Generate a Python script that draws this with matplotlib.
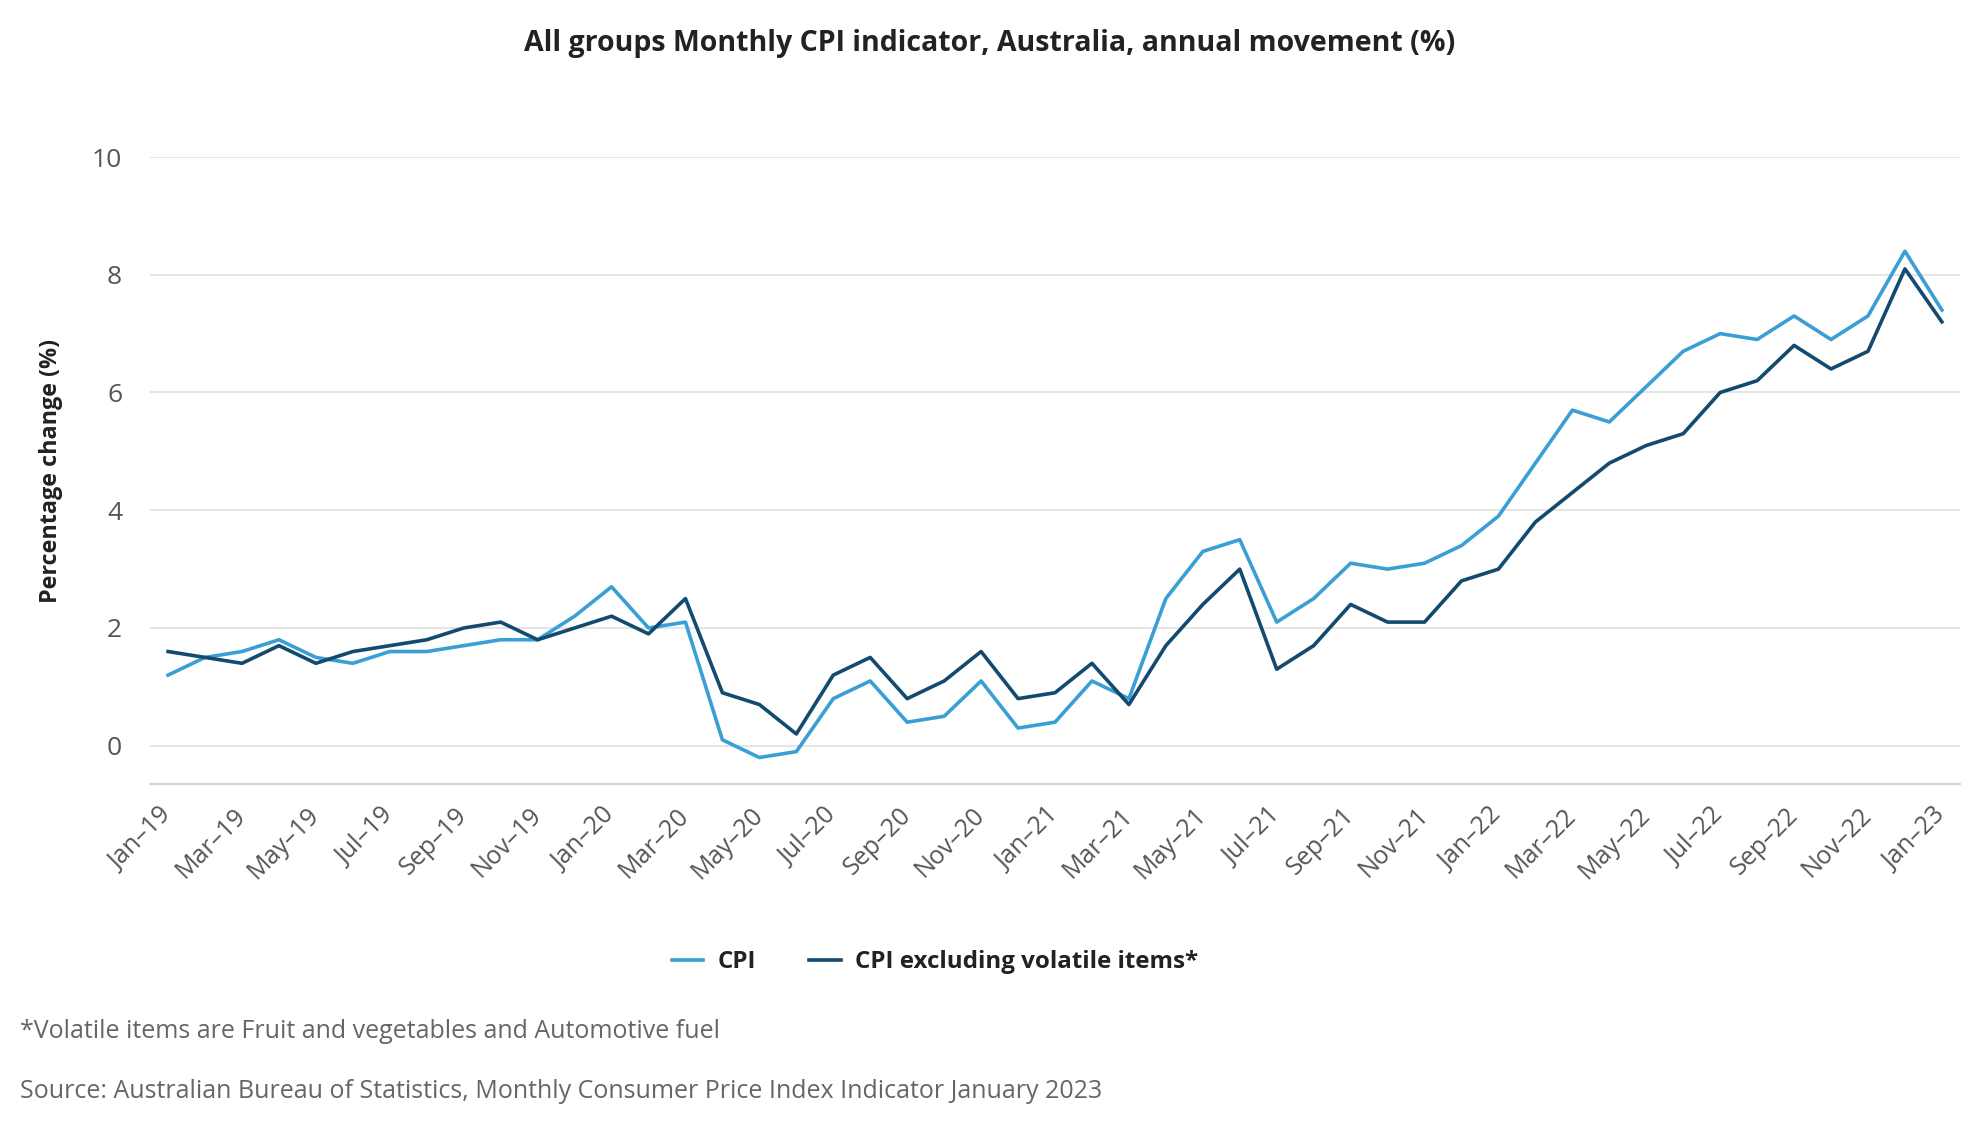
import matplotlib
matplotlib.use("Agg")
import matplotlib.pyplot as plt

plt.rcParams['font.family'] = ['Open Sans', 'DejaVu Sans']

# monthly labels Jan-19 .. Jan-23
months = ['Jan', 'Feb', 'Mar', 'Apr', 'May', 'Jun', 'Jul', 'Aug', 'Sep', 'Oct', 'Nov', 'Dec']
periods = [f"{m}\u201319" for m in months] + [f"{m}\u201320" for m in months] + \
          [f"{m}\u201321" for m in months] + [f"{m}\u201322" for m in months] + ["Jan\u201323"]

cpi = [1.2, 1.5, 1.6, 1.8, 1.5, 1.4, 1.6, 1.6, 1.7, 1.8, 1.8, 2.2,
       2.7, 2.0, 2.1, 0.1, -0.2, -0.1, 0.8, 1.1, 0.4, 0.5, 1.1, 0.3,
       0.4, 1.1, 0.8, 2.5, 3.3, 3.5, 2.1, 2.5, 3.1, 3.0, 3.1, 3.4,
       3.9, 4.8, 5.7, 5.5, 6.1, 6.7, 7.0, 6.9, 7.3, 6.9, 7.3, 8.4,
       7.4]
cpi_ex_volatile = [1.6, 1.5, 1.4, 1.7, 1.4, 1.6, 1.7, 1.8, 2.0, 2.1, 1.8, 2.0,
                   2.2, 1.9, 2.5, 0.9, 0.7, 0.2, 1.2, 1.5, 0.8, 1.1, 1.6, 0.8,
                   0.9, 1.4, 0.7, 1.7, 2.4, 3.0, 1.3, 1.7, 2.4, 2.1, 2.1, 2.8,
                   3.0, 3.8, 4.3, 4.8, 5.1, 5.3, 6.0, 6.2, 6.8, 6.4, 6.7, 8.1,
                   7.2]

y_ticks = [0, 2, 4, 6, 8, 10]

fig = plt.figure(figsize=(19.8, 11.4), dpi=100)
ax = fig.add_axes([150 / 1980, 1 - 784 / 1140, 1810 / 1980, (784 - 157) / 1140])

x = list(range(len(periods)))
ax.plot(x, cpi, color='#3a9fd4', lw=2.6, label='CPI', solid_joinstyle='round')
ax.plot(x, cpi_ex_volatile, color='#124a70', lw=2.6, label='CPI excluding volatile items*',
        solid_joinstyle='round')

ax.set_xlim(-0.49, len(periods) - 0.51)
ax.set_ylim(-0.65, 10)
ax.set_yticks(y_ticks)
ax.set_yticklabels([str(t) for t in y_ticks])
ax.set_xticks(x[::2])
ax.set_xticklabels(periods[::2], rotation=45, ha='right', va='center', rotation_mode='anchor')

ax.grid(axis='y', color='#e3e3e3', lw=1.3)
ax.set_axisbelow(True)
for s in ['top', 'right', 'left']:
    ax.spines[s].set_visible(False)
ax.spines['bottom'].set_color('#ccd6eb')
ax.spines['bottom'].set_linewidth(1.5)
ax.tick_params(axis='y', length=0, pad=20, labelsize=19, labelcolor='#555555')
ax.tick_params(axis='x', length=0, pad=20, labelsize=18, labelcolor='#555555')

fig.text(0.5, 1 - 43 / 1140, 'All groups Monthly CPI indicator, Australia, annual movement (%)',
         ha='center', va='center', fontsize=20.5, fontweight='bold', color='#222222')
fig.text(51 / 1980, 1 - 471 / 1140, 'Percentage change (%)', rotation=90,
         ha='center', va='center', fontsize=16.8, fontweight='bold', color='#222222')

fig.legend(loc='center', bbox_to_anchor=(935 / 1980, 1 - 962 / 1140), ncol=2, frameon=False,
           handlelength=1.3, handletextpad=0.6, columnspacing=2.2,
           prop={'size': 17.4, 'weight': 'bold'}, labelcolor='#222222')

fig.text(20 / 1980, 1 - 1032 / 1140, '*Volatile items are Fruit and vegetables and Automotive fuel',
         ha='left', va='center', fontsize=18, color='#666666')
fig.text(20 / 1980, 1 - 1092 / 1140,
         'Source: Australian Bureau of Statistics, Monthly Consumer Price Index Indicator January 2023',
         ha='left', va='center', fontsize=18, color='#666666')

fig.savefig('out.png', dpi=100)
